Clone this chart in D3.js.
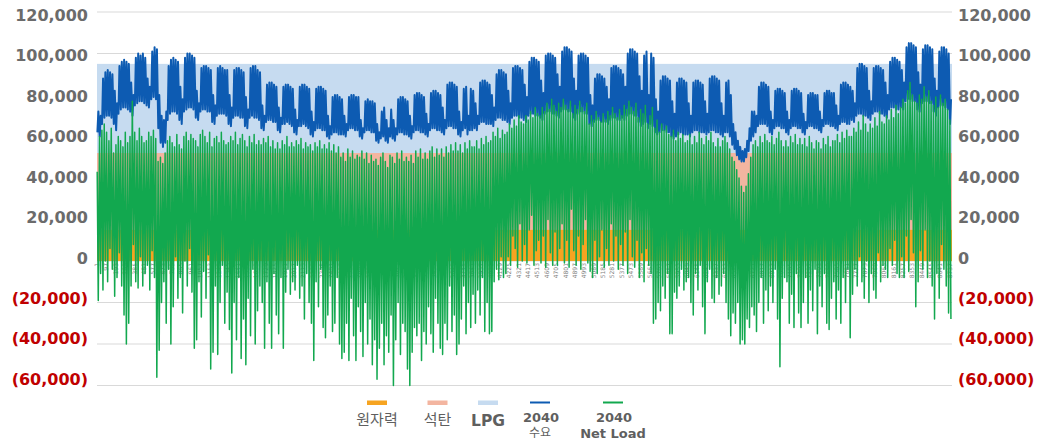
<!DOCTYPE html>
<html lang="ko">
<head>
  <meta charset="UTF-8">
  <title>2040 수요 / Net Load</title>
  <style>
    html, body { margin: 0; background: #fff; }
    svg { display: block; font-family: "DejaVu Sans", Verdana, sans-serif; }
    .ylab { font-weight: bold; font-size: 16px; }
    .hour { font-size: 6px; fill: #808080; }
    .leg { fill: #5f5f5f; }
    .kr { font-family: "Noto Sans CJK KR", "Noto Sans", sans-serif; }
  </style>
</head>
<body>
  <svg width="1049" height="441"></svg>
  <script src="https://d3js.org/d3.v7.min.js"></script>
  <script>

// values in thousand MW, one entry per day (rows = weeks, Sat..Fri)
const demandPeak = [
  72, 70, 88, 91, 92, 91, 90,
  82, 76, 94, 96, 97, 96, 95,
  86, 80, 98, 100, 99, 100, 98,
  88, 84, 101, 103, 102, 80, 70,
  68, 72, 94, 97, 98, 97, 96,
  84, 78, 98, 100, 100, 99, 98,
  82, 76, 93, 94, 94, 93, 92,
  80, 75, 93, 94, 93, 92, 92,
  80, 74, 92, 93, 93, 92, 91,
  79, 73, 93, 94, 94, 92, 91,
  75, 70, 85, 86, 86, 85, 84,
  74, 69, 84, 85, 85, 84, 83,
  73, 68, 84, 85, 85, 84, 83,
  72, 67, 83, 84, 84, 83, 82,
  70, 65, 79, 80, 80, 79, 78,
  70, 66, 79, 80, 80, 79, 79,
  68, 64, 77, 78, 77, 77, 76,
  66, 62, 72, 74, 68, 64, 73,
  68, 64, 78, 79, 79, 78, 77,
  70, 65, 80, 81, 81, 80, 79,
  71, 66, 81, 82, 82, 81, 80,
  74, 68, 85, 86, 86, 85, 84,
  72, 67, 83, 84, 70, 83, 82,
  76, 70, 86, 87, 87, 86, 85,
  80, 74, 90, 92, 92, 91, 90,
  82, 76, 93, 94, 94, 93, 92,
  85, 79, 96, 98, 98, 97, 96,
  87, 81, 99, 100, 100, 99, 98,
  90, 84, 101, 103, 103, 102, 101,
  88, 82, 99, 100, 100, 99, 98,
  80, 75, 88, 90, 90, 89, 88,
  84, 78, 93, 94, 94, 93, 92,
  90, 84, 100, 102, 102, 101, 100,
  89, 82, 99, 101, 80, 100, 98,
  78, 72, 87, 89, 89, 88, 87,
  77, 71, 86, 88, 88, 87, 86,
  76, 70, 86, 87, 87, 86, 85,
  77, 71, 88, 89, 89, 88, 87,
  76, 70, 86, 87, 80, 66, 62,
  58, 55, 53, 54, 58, 64, 72,
  72, 70, 84, 86, 86, 85, 84,
  72, 68, 82, 83, 83, 82, 81,
  72, 68, 82, 83, 83, 82, 81,
  71, 67, 80, 81, 81, 80, 80,
  72, 68, 81, 82, 82, 81, 81,
  75, 70, 85, 86, 86, 85, 84,
  82, 76, 93, 95, 95, 94, 93,
  82, 77, 93, 94, 94, 93, 92,
  86, 80, 96, 98, 98, 97, 96,
  92, 86, 103, 105, 105, 104, 103,
  91, 85, 102, 104, 104, 103, 102,
  88, 82, 101, 103, 103, 102, 100,
  78
];

const demandLow = [
  62, 60, 66, 69, 70, 70, 69,
  66, 63, 71, 73, 74, 74, 73,
  72, 70, 75, 76, 77, 77, 76,
  75, 74, 78, 79, 78, 64, 57,
  55, 57, 68, 71, 72, 72, 71,
  68, 66, 72, 73, 74, 74, 73,
  69, 68, 72, 73, 73, 72, 72,
  67, 66, 70, 71, 71, 71, 70,
  66, 65, 69, 70, 70, 69, 69,
  65, 64, 69, 70, 69, 69, 68,
  64, 63, 67, 68, 68, 67, 67,
  63, 62, 66, 66, 67, 66, 65,
  62, 61, 65, 65, 66, 65, 64,
  61, 60, 63, 64, 64, 63, 63,
  60, 59, 61, 62, 62, 61, 61,
  61, 60, 63, 64, 64, 63, 63,
  60, 59, 62, 63, 63, 62, 62,
  58, 57, 59, 60, 58, 57, 60,
  59, 58, 61, 62, 62, 61, 61,
  60, 59, 62, 63, 63, 62, 62,
  61, 60, 63, 64, 64, 63, 63,
  62, 61, 64, 65, 65, 64, 64,
  61, 60, 63, 64, 61, 63, 63,
  64, 63, 66, 67, 67, 66, 66,
  66, 65, 68, 69, 69, 68, 68,
  67, 66, 69, 70, 70, 69, 69,
  68, 67, 70, 71, 71, 70, 70,
  69, 68, 71, 72, 72, 71, 71,
  70, 69, 72, 73, 73, 72, 72,
  69, 68, 71, 72, 72, 71, 71,
  66, 65, 67, 68, 68, 67, 67,
  67, 66, 68, 69, 69, 68, 68,
  69, 68, 70, 71, 71, 70, 70,
  67, 65, 66, 67, 64, 66, 65,
  62, 61, 62, 63, 63, 62, 62,
  60, 59, 60, 61, 62, 61, 61,
  61, 60, 62, 63, 63, 62, 62,
  62, 61, 62, 63, 63, 62, 62,
  61, 60, 62, 62, 60, 56, 54,
  51, 49, 48, 48, 50, 53, 58,
  60, 62, 65, 66, 66, 66, 65,
  62, 61, 64, 65, 65, 64, 64,
  62, 61, 64, 65, 65, 64, 64,
  62, 61, 64, 65, 65, 64, 64,
  63, 62, 65, 66, 66, 65, 65,
  64, 63, 66, 67, 67, 66, 66,
  68, 67, 70, 71, 71, 70, 70,
  69, 68, 71, 72, 72, 71, 71,
  70, 69, 73, 74, 74, 73, 73,
  74, 73, 77, 78, 78, 77, 77,
  73, 72, 76, 77, 77, 76, 76,
  72, 70, 74, 75, 75, 74, 73,
  66
];

const netHigh = [
  43, 60, 63, 66, 62, 58, 64,
  52, 56, 60, 58, 55, 62, 57,
  60, 77, 62, 58, 64, 60, 57,
  58, 62, 60, 63, 59, 48, 50,
  47, 52, 58, 60, 57, 55, 61,
  56, 54, 60, 62, 58, 61, 59,
  58, 55, 61, 63, 60, 57, 62,
  55, 59, 60, 57, 62, 58, 56,
  57, 60, 58, 62, 56, 59, 61,
  58, 55, 60, 57, 61, 56, 58,
  56, 59, 57, 60, 55, 58, 54,
  57, 54, 58, 56, 60, 55, 57,
  55, 58, 56, 59, 54, 57, 55,
  56, 53, 57, 55, 58, 54, 56,
  54, 57, 53, 56, 52, 55, 50,
  52, 48, 54, 50, 53, 49, 51,
  50, 53, 49, 52, 47, 51, 48,
  49, 46, 50, 52, 48, 45, 51,
  50, 47, 52, 49, 53, 48, 50,
  48, 51, 47, 53, 50, 54, 49,
  52, 49, 53, 55, 50, 54, 51,
  54, 50, 55, 52, 56, 53, 57,
  53, 56, 52, 57, 54, 58, 55,
  55, 58, 54, 59, 56, 60, 57,
  58, 62, 60, 64, 59, 63, 61,
  62, 66, 64, 68, 65, 70, 67,
  66, 70, 68, 72, 69, 74, 71,
  70, 74, 72, 76, 73, 78, 75,
  72, 76, 74, 78, 75, 73, 77,
  71, 75, 73, 77, 74, 72, 76,
  66, 70, 68, 72, 69, 67, 71,
  68, 72, 70, 74, 71, 69, 73,
  70, 75, 73, 77, 74, 72, 76,
  69, 73, 71, 75, 66, 70, 74,
  64, 68, 62, 66, 63, 65, 61,
  60, 63, 58, 62, 59, 61, 57,
  58, 61, 56, 60, 57, 62, 59,
  56, 60, 58, 62, 57, 55, 59,
  55, 58, 60, 57, 54, 50, 48,
  44, 40, 36, 33, 36, 42, 50,
  56, 58, 55, 60, 57, 61, 58,
  57, 60, 56, 59, 62, 58, 55,
  58, 55, 60, 57, 61, 56, 59,
  56, 59, 55, 60, 57, 54, 58,
  57, 54, 59, 56, 60, 55, 58,
  58, 61, 57, 62, 59, 63, 60,
  60, 64, 62, 67, 63, 70, 66,
  62, 66, 64, 69, 65, 72, 67,
  66, 70, 68, 73, 69, 75, 71,
  74, 78, 76, 82, 86, 80, 77,
  76, 80, 78, 84, 79, 82, 77,
  75, 79, 74, 80, 76, 78, 73,
  68
];

const netLow = [
  -19, -6, -14, 0, -10, 6, -4,
  -17, -8, 4, -12, -26, -40, -30,
  -12, 8, -10, -13, 2, -12, -6,
  -2, -14, 5, -8, -56, -43, -20,
  -10, -30, -4, -40, -22, 2, -18,
  -8, -25, 0, -12, 6, -15, -42,
  -38, -10, -27, -5, -18, 3, -52,
  -44, -12, -45, -20, -2, -30, -15,
  -33, -54, -20, -38, -8, -47, -28,
  -50, -18, -36, -4, -40, -24, -12,
  -20, -42, -10, -30, -42, -6, -26,
  -35, -8, -42, -15, -4, -16, -10,
  -14, -2, -18, -12, -28, -6, -20,
  -30, -48, -10, -22, -4, -32, -37,
  -26, -12, -34, -30, -8, -40, -47,
  -44, -30, -48, -18, -36, -48, -22,
  -34, -46, -20, -40, -28, -50, -38,
  -57, -42, -30, -50, -36, -44, -26,
  -60, -38, -20, -45, -30, -34, -52,
  -60, -44, -32, -36, -30, -48, -34,
  -40, -22, -35, -44, -18, -30, -42,
  -45, -30, -38, -12, -34, -26, -45,
  -40, -28, -12, -35, -20, -32, -16,
  -30, -14, -26, -8, -34, -20, -35,
  -34, -10, -4, -9, 2, -8, -6,
  2, -2, 12, 6, -3, 18, 0,
  8, -1, 15, 22, -2, 5, 10,
  -1, 12, -3, 20, 4, -2, 14,
  -2, 6, 18, -1, 10, -3, 25,
  5, -2, 12, -4, 8, 20, -1,
  -5, -8, 10, -6, 2, 15, -3,
  6, -2, 18, 0, 12, -4, 8,
  -2, 14, -6, 20, 2, -3, 10,
  -8, 4, -10, 6, -2, -6, -30,
  -28, -20, -24, -12, -18, -6, -35,
  -35, -15, -18, -12, -4, -14, -10,
  -8, -20, -26, -6, -14, -2, -22,
  -35, -10, -4, -18, -20, -8, -16,
  -12, -6, -20, -28, -36, -25, -30,
  -20, -40, -38, -40, -28, -32, -22,
  -26, -34, -20, -8, -30, -14, -24,
  -12, -20, -4, -28, -51, -18, -8,
  -10, -30, -16, -32, -6, -25, -32,
  -20, -8, -30, -14, -24, -4, -35,
  -12, -22, -6, -30, -33, -18, -10,
  -28, -14, -30, -8, -20, -4, -37,
  -16, -4, -12, 2, -10, -18, 0,
  -20, -6, -14, -18, 4, -10, -2,
  -4, -8, 6, -2, 10, -6, -8,
  2, -8, 12, -5, 20, 4, -22,
  -10, 5, -4, 15, -8, 0, -12,
  -28, -6, -18, 8, -4, -12, -25,
  -28
];

// capacity bands (top of each stacked block, thousand MW)
const bandNames = ["원자력", "석탄", "LPG"];
const bandTops = [15, 52, 95];
const bandColors = ["#f6a421", "#f3b5a0", "#c6dbf0"];

const yTicks = [120, 100, 80, 60, 40, 20, 0, -20, -40, -60];
const hourTicks = d3.range(1, 8761, 96);

const blue = "#0d5bb2";
const green = "#12a84f";

// hourly positions: night low / daytime peak for demand, night high / midday low for net load
const demand = [];
const net = [];
demandPeak.forEach((p, d) => {
  demand.push({h: d * 24 + 4, v: demandLow[d]});
  demand.push({h: d * 24 + 14, v: p});
  net.push({h: d * 24 + 2, v: netHigh[d]});
  net.push({h: d * 24 + 13, v: netLow[d]});
});

const svg = d3.select("svg");

const x = d3.scaleLinear().domain([0, 8760]).range([97, 952]);
const y = d3.scaleLinear().domain([-60, 120]).range([385.5, 12]);
// the axis text in the source sits on a slightly tighter pitch than the grid
const yText = d3.scaleLinear().domain([-60, 120]).range([379, 15.3]);

const fmt = d3.format(",");
const tickText = v => v < 0 ? `(${fmt(-v * 1000)})` : fmt(v * 1000);

// gridlines
svg.append("g")
  .selectAll("line")
  .data(yTicks)
  .join("line")
  .attr("x1", x(0)).attr("x2", x(8760))
  .attr("y1", d => y(d)).attr("y2", d => y(d))
  .attr("stroke", "#d9d9d9")
  .attr("stroke-width", 1.2);

// LPG block
svg.append("rect")
  .attr("x", x(0)).attr("width", x(8760) - x(0))
  .attr("y", y(bandTops[2])).attr("height", y(0) - y(bandTops[2]))
  .attr("fill", bandColors[2]);

// coal block, cut down where demand falls below it
const coalPts = [{h: 0, v: demand[0].v}, ...demand, {h: 8760, v: demand[demand.length - 1].v}];
svg.append("path")
  .datum(coalPts)
  .attr("fill", bandColors[1])
  .attr("d", d3.area()
    .x(d => x(d.h))
    .y0(y(0))
    .y1(d => y(Math.min(bandTops[1], d.v))));

// nuclear block
svg.append("rect")
  .attr("x", x(0)).attr("width", x(8760) - x(0))
  .attr("y", y(bandTops[0])).attr("height", y(0) - y(bandTops[0]))
  .attr("fill", bandColors[0]);

// hour labels
svg.append("g")
  .selectAll("text")
  .data(hourTicks)
  .join("text")
  .attr("class", "hour")
  .attr("transform", d => `translate(${x(d - 1)},263) rotate(-90)`)
  .attr("text-anchor", "end")
  .attr("dy", "0.35em")
  .text(d => d);

const line = d3.line().x(d => x(d.h)).y(d => y(d.v));

svg.append("path")
  .datum(demand)
  .attr("fill", "none")
  .attr("stroke", blue)
  .attr("stroke-width", 2)
  .attr("stroke-linejoin", "round")
  .attr("d", line);

svg.append("path")
  .datum(net)
  .attr("fill", "none")
  .attr("stroke", green)
  .attr("stroke-width", 1.5)
  .attr("stroke-linejoin", "round")
  .attr("d", line);

// y labels both sides
[{xPos: 88, anchor: "end"}, {xPos: 958, anchor: "start"}].forEach(side => {
  svg.append("g")
    .selectAll("text")
    .data(yTicks)
    .join("text")
    .attr("class", "ylab")
    .attr("x", side.xPos)
    .attr("y", d => yText(d))
    .attr("dy", "0.36em")
    .attr("text-anchor", side.anchor)
    .attr("fill", d => d < 0 ? "#c00000" : "#6b6b6b")
    .text(tickText);
});

// legend
const legend = svg.append("g");
const blockX = [377, 437.5, 488];
bandNames.forEach((name, i) => {
  legend.append("rect")
    .attr("x", blockX[i] - 10).attr("y", 400.5)
    .attr("width", 20).attr("height", 4.5)
    .attr("fill", bandColors[i]);
  legend.append("text")
    .attr("class", "leg" + (i < 2 ? " kr" : ""))
    .attr("x", blockX[i]).attr("y", 420)
    .attr("dy", "0.36em")
    .attr("text-anchor", "middle")
    .style("font-size", i < 2 ? "15px" : "15.5px")
    .style("font-weight", i < 2 ? "normal" : "bold")
    .text(name);
});

const lineItems = [
  {cx: 540, color: blue, top: "2040", bottom: "수요", kr: true},
  {cx: 613, color: green, top: "2040", bottom: "Net Load", kr: false}
];
lineItems.forEach(it => {
  legend.append("line")
    .attr("x1", it.cx - 10).attr("x2", it.cx + 10)
    .attr("y1", 402.5).attr("y2", 402.5)
    .attr("stroke", it.color).attr("stroke-width", 2);
  legend.append("text")
    .attr("class", "leg")
    .attr("x", it.cx + 1).attr("y", 417)
    .attr("dy", "0.36em")
    .attr("text-anchor", "middle")
    .style("font-size", "13px").style("font-weight", "bold")
    .text(it.top);
  legend.append("text")
    .attr("class", "leg" + (it.kr ? " kr" : ""))
    .attr("x", it.cx).attr("y", 433)
    .attr("dy", "0.36em")
    .attr("text-anchor", "middle")
    .style("font-size", it.kr ? "12px" : "13px")
    .style("font-weight", it.kr ? "normal" : "bold")
    .text(it.bottom);
});
  </script>
</body>
</html>
